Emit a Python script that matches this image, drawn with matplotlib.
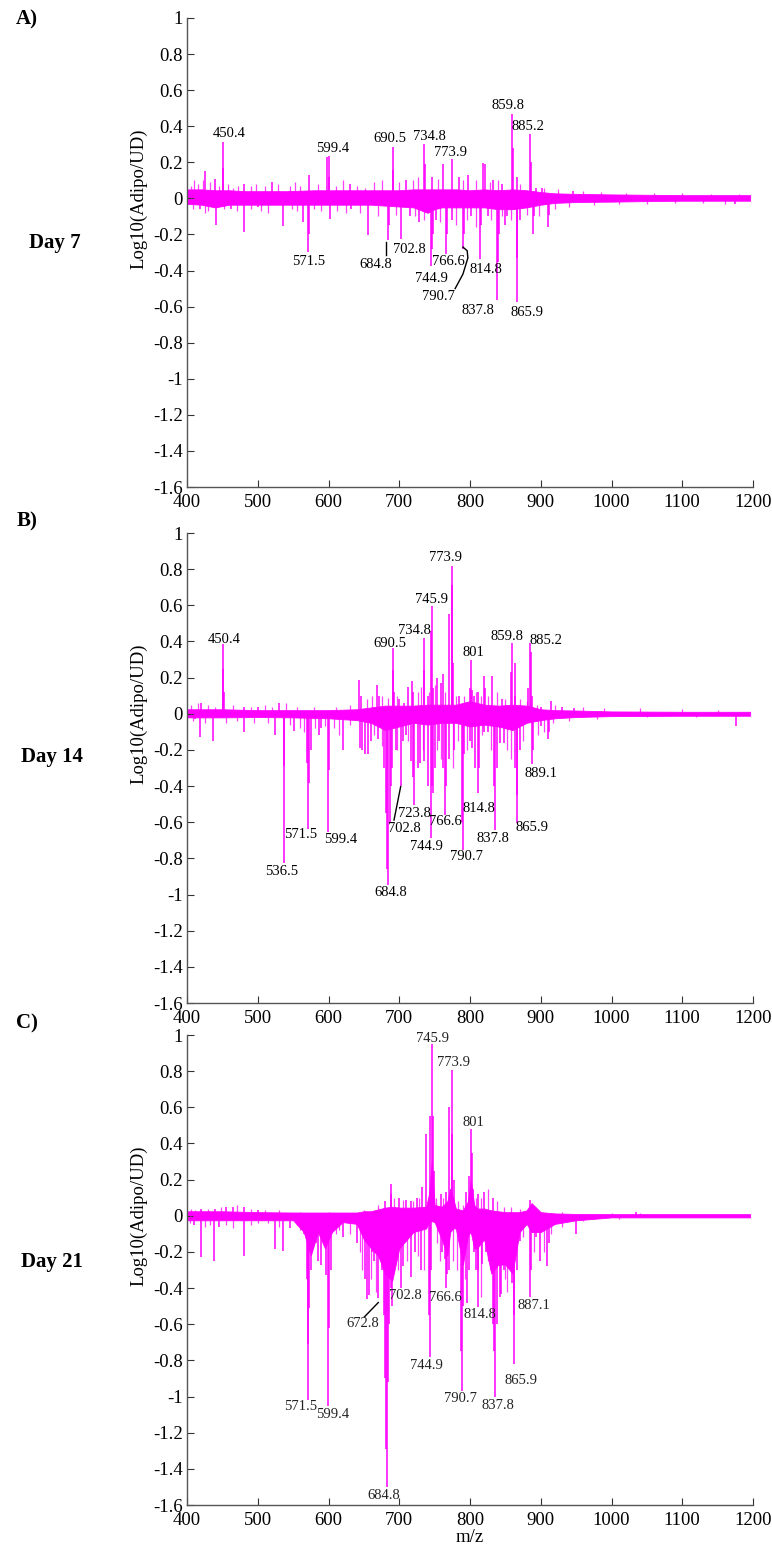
import matplotlib
matplotlib.use("Agg")
import matplotlib.pyplot as plt
from matplotlib.ticker import FuncFormatter

plt.rcParams['font.family'] = ['Liberation Serif', 'DejaVu Serif']
plt.rcParams['axes.unicode_minus'] = False

MAG = '#ff00ff'

# ---------------- data (m/z, log10 ratio) ----------------
# Day 7
a_band_mz = [400, 420, 440, 460, 480, 500, 540, 580, 620, 660, 700, 720, 740, 750, 760, 780, 800, 820, 840, 860, 880, 900, 920, 950, 1000, 1050, 1100, 1150, 1196]
a_band_hi = [0.05, 0.05, 0.045, 0.045, 0.04, 0.04, 0.04, 0.045, 0.045, 0.045, 0.045, 0.05, 0.05, 0.05, 0.05, 0.05, 0.045, 0.05, 0.045, 0.05, 0.045, 0.035, 0.028, 0.025, 0.022, 0.02, 0.018, 0.018, 0.018]
a_band_lo = [-0.03, -0.035, -0.05, -0.035, -0.035, -0.035, -0.035, -0.035, -0.035, -0.035, -0.045, -0.05, -0.08, -0.06, -0.05, -0.05, -0.05, -0.05, -0.06, -0.06, -0.05, -0.035, -0.025, -0.02, -0.018, -0.015, -0.013, -0.013, -0.013]
a_peak_mz = [426, 440, 450.4, 451.5, 480, 520, 572, 598.5, 600.2, 601, 630, 690.5, 691.5, 710, 734.8, 736, 746, 762.5, 773.9, 784, 797, 819, 820.5, 833, 845, 859.8, 860.5, 866, 885.2, 886, 893, 902, 945,
             418, 440.5, 462, 480.5, 500, 536, 564, 571.5, 572.5, 601.5, 632, 656.5, 684.8, 686, 702.8, 715, 728, 744.9, 746, 748, 752, 766.6, 768, 775, 790.7, 792, 802, 814.8, 816, 826, 837.8, 839, 841, 849, 852, 865.9, 867, 871, 889, 891, 910, 912, 1175]
a_peak_val = [0.15, 0.11, 0.31, 0.17, 0.08, 0.09, 0.13, 0.23, 0.235, 0.12, 0.08, 0.285, 0.16, 0.1, 0.30, 0.19, 0.12, 0.19, 0.22, 0.12, 0.13, 0.195, 0.19, 0.1, 0.08, 0.47, 0.28, 0.12, 0.355, 0.2, 0.06, 0.06, 0.04,
              -0.06, -0.15, -0.06, -0.185, -0.05, -0.153, -0.13, -0.30, -0.2, -0.117, -0.06, -0.205, -0.232, -0.15, -0.227, -0.1, -0.13, -0.376, -0.28, -0.2, -0.12, -0.31, -0.2, -0.12, -0.28, -0.2, -0.1, -0.334, -0.15, -0.1, -0.564, -0.35, -0.2, -0.145, -0.1, -0.577, -0.33, -0.12, -0.199, -0.1, -0.158, -0.09, -0.03]
a_small_mz = [405, 410, 415, 422, 432, 445, 458, 465, 472, 490, 498, 510, 528, 545, 552, 560, 585, 610, 620, 640, 652, 665, 675, 700, 720, 726, 755, 790, 808, 828, 840, 870, 905, 925, 960, 985, 1020, 1060, 1100, 1140, 1180,
              408, 425, 430, 452, 470, 490.5, 505, 515, 548, 556, 580, 590, 612, 625, 645, 670, 695, 722, 735, 758, 780, 796, 808.5, 830, 845, 858, 880, 898, 920, 940, 975, 1010, 1050, 1090, 1130, 1160]
a_small_val = [0.07, 0.1, 0.08, 0.1, 0.09, 0.07, 0.08, 0.06, 0.07, 0.07, 0.08, 0.07, 0.08, 0.07, 0.09, 0.07, 0.08, 0.07, 0.1, 0.07, 0.06, 0.09, 0.1, 0.09, 0.1, 0.12, 0.11, 0.1, 0.1, 0.09, 0.1, 0.08, 0.06, 0.05, 0.04, 0.035, 0.03, 0.03, 0.028, 0.025, 0.025,
               -0.06, -0.08, -0.07, -0.06, -0.07, -0.06, -0.07, -0.08, -0.06, -0.07, -0.06, -0.07, -0.07, -0.08, -0.08, -0.1, -0.09, -0.1, -0.12, -0.13, -0.15, -0.12, -0.16, -0.12, -0.1, -0.12, -0.09, -0.1, -0.06, -0.05, -0.035, -0.03, -0.03, -0.028, -0.025, -0.03]
a_lab_txt = ["450.4", "599.4", "690.5", "734.8", "773.9", "859.8", "885.2", "571.5", "684.8", "702.8", "744.9", "766.6", "790.7", "814.8", "837.8", "865.9"]
a_lab_mz = [459.4, 605.4, 687, 742, 773, 853.3, 882.4, 571.5, 666.7, 714.3, 744.9, 769.4, 755.3, 822.6, 811, 881]
a_lab_val = [0.358, 0.275, 0.33, 0.343, 0.256, 0.514, 0.40, -0.352, -0.367, -0.284, -0.444, -0.352, -0.546, -0.393, -0.62, -0.632]
a_lead = [([681.7, 681.7], [-0.242, -0.315]),
          ([779, 790, 797, 796, 790], [-0.5, -0.42, -0.33, -0.29, -0.27])]

# Day 14
b_band_mz = [400, 450, 500, 550, 600, 640, 660, 680, 700, 720, 740, 760, 780, 800, 820, 840, 860, 880, 900, 920, 950, 1000, 1100, 1196]
b_band_hi = [0.025, 0.025, 0.02, 0.02, 0.02, 0.025, 0.035, 0.045, 0.045, 0.045, 0.05, 0.05, 0.05, 0.07, 0.05, 0.045, 0.05, 0.045, 0.025, 0.02, 0.018, 0.013, 0.011, 0.011]
b_band_lo = [-0.02, -0.02, -0.018, -0.02, -0.025, -0.035, -0.05, -0.09, -0.07, -0.05, -0.06, -0.05, -0.05, -0.07, -0.06, -0.07, -0.09, -0.05, -0.035, -0.025, -0.018, -0.013, -0.011, -0.011]
b_peak_mz = [420, 450.4, 451.2, 452, 480, 500, 530, 643, 646, 669, 671, 690.5, 691.3, 693, 700, 707, 712, 718.5, 720, 734.8, 735.5, 740, 745.2, 745.9, 747, 753, 759, 762, 770.5, 773.9, 774.7, 776, 785, 799.5, 801, 803, 806, 812, 819.5, 821, 831.5, 845, 857.5, 859.8, 863.6, 864, 882, 885.2, 886, 888, 900, 914.5, 930, 947,
             412, 419, 437, 480, 524, 536.5, 537.5, 551, 570, 571.5, 573, 575, 587, 590, 599.4, 600.5, 620, 645, 648, 652, 656, 660, 670, 678, 681, 683, 684.8, 686.5, 688, 690, 695, 702.8, 705, 710, 716, 719, 721, 726, 730, 735, 740, 744.9, 746, 748, 750, 756, 762, 764, 766, 770, 778, 788, 790, 792, 800, 803, 807, 811, 813, 820, 826, 834, 835.5, 838, 843, 848, 864, 865.9, 867, 870, 887.5, 889, 900, 910, 912, 1176]
b_peak_val = [0.06, 0.384, 0.245, 0.12, 0.04, 0.04, 0.06, 0.185, 0.1, 0.157, 0.1, 0.366, 0.24, 0.12, 0.08, 0.06, 0.15, 0.18, 0.12, 0.418, 0.24, 0.1, 0.46, 0.597, 0.14, 0.2, 0.17, 0.22, 0.55, 0.82, 0.71, 0.28, 0.1, 0.14, 0.295, 0.13, 0.1, 0.12, 0.21, 0.14, 0.21, 0.08, 0.23, 0.39, 0.28, 0.1, 0.14, 0.39, 0.34, 0.1, 0.04, 0.07, 0.04, 0.03,
              -0.03, -0.13, -0.15, -0.1, -0.12, -0.823, -0.29, -0.095, -0.27, -0.638, -0.385, -0.2, -0.115, -0.08, -0.653, -0.31, -0.2, -0.19, -0.2, -0.22, -0.22, -0.15, -0.14, -0.3, -0.55, -0.86, -0.949, -0.6, -0.4, -0.3, -0.2, -0.4, -0.15, -0.12, -0.26, -0.35, -0.505, -0.3, -0.27, -0.26, -0.4, -0.686, -0.4, -0.44, -0.3, -0.15, -0.3, -0.56, -0.4, -0.25, -0.2, -0.6, -0.755, -0.22, -0.15, -0.19, -0.3, -0.44, -0.3, -0.1, -0.1, -0.4, -0.643, -0.3, -0.16, -0.16, -0.3, -0.607, -0.45, -0.2, -0.277, -0.2, -0.07, -0.14, -0.1, -0.07]
b_small_mz = [405, 415, 430, 440, 465, 490, 510, 520, 540, 555, 580, 610, 630, 655, 662, 676, 684, 697, 727, 731, 742, 750, 765, 780, 792, 808, 815, 825, 838, 850, 870, 880, 895, 920, 960, 990, 1040, 1100, 1150,
              408, 425, 455, 470, 495, 515, 545, 560, 565, 580.5, 595, 608, 615, 630.5, 665, 675, 697.5, 713, 733, 753.5, 759.5, 775.5, 783, 796, 817, 829, 852, 858, 875, 895.5, 905, 918, 940, 980, 1050, 1120]
b_small_val = [0.05, 0.06, 0.05, 0.04, 0.05, 0.04, 0.05, 0.04, 0.06, 0.04, 0.04, 0.04, 0.05, 0.08, 0.1, 0.1, 0.09, 0.1, 0.12, 0.15, 0.12, 0.16, 0.12, 0.1, 0.1, 0.12, 0.1, 0.1, 0.12, 0.08, 0.08, 0.07, 0.05, 0.05, 0.04, 0.03, 0.03, 0.025, 0.02,
               -0.04, -0.05, -0.05, -0.04, -0.05, -0.05, -0.06, -0.08, -0.1, -0.08, -0.07, -0.08, -0.12, -0.06, -0.12, -0.18, -0.2, -0.15, -0.2, -0.2, -0.25, -0.3, -0.15, -0.2, -0.12, -0.2, -0.2, -0.25, -0.15, -0.12, -0.1, -0.05, -0.04, -0.03, -0.02, -0.02]
b_lab_txt = ["450.4", "690.5", "734.8", "745.9", "773.9", "801", "859.8", "885.2", "536.5", "571.5", "599.4", "684.8", "723.8", "702.8", "766.6", "744.9", "790.7", "814.8", "837.8", "865.9", "889.1"]
b_lab_mz = [452.8, 687, 721.3, 745.8, 764.7, 804.8, 851.9, 907, 533.8, 561, 617.2, 688.3, 721.3, 707.2, 764.7, 738.8, 795.6, 813, 833, 887.2, 900]
b_lab_val = [0.412, 0.388, 0.458, 0.634, 0.862, 0.338, 0.425, 0.407, -0.871, -0.668, -0.693, -0.986, -0.551, -0.634, -0.597, -0.736, -0.792, -0.523, -0.69, -0.629, -0.332]
b_lead = [([692.6, 702], [-0.588, -0.403])]

# Day 21
c_band_mz = [400, 450, 500, 550, 565, 575, 585, 595, 605, 620, 640, 650, 660, 670, 680, 690, 700, 720, 738, 742, 746, 750, 760, 768, 772, 776, 780, 790, 797, 801, 806, 810, 820, 830, 840, 850, 860, 870, 880, 887, 900, 920, 950, 1000, 1100, 1196]
c_band_hi = [0.025, 0.025, 0.02, 0.018, 0.018, 0.018, 0.018, 0.018, 0.018, 0.018, 0.018, 0.025, 0.025, 0.035, 0.045, 0.05, 0.045, 0.045, 0.05, 0.12, 0.3, 0.06, 0.05, 0.08, 0.15, 0.1, 0.04, 0.03, 0.08, 0.2, 0.06, 0.04, 0.04, 0.03, 0.025, 0.02, 0.02, 0.02, 0.03, 0.07, 0.02, 0.013, 0.01, 0.009, 0.009, 0.009]
c_band_lo = [-0.025, -0.025, -0.025, -0.025, -0.09, -0.22, -0.09, -0.18, -0.09, -0.035, -0.045, -0.13, -0.18, -0.22, -0.32, -0.36, -0.18, -0.09, -0.07, -0.035, -0.03, -0.035, -0.13, -0.22, -0.09, -0.07, -0.07, -0.27, -0.11, -0.09, -0.18, -0.18, -0.13, -0.32, -0.27, -0.27, -0.32, -0.09, -0.045, -0.09, -0.09, -0.045, -0.025, -0.009, -0.009, -0.009]
c_peak_mz = [420, 440, 455, 465, 480, 500, 680, 687.7, 689, 700, 710, 716, 725, 732, 738, 743, 745.9, 747, 749, 758.9, 766, 770.5, 773.9, 775, 777, 795, 799, 801, 802.5, 804, 812, 820, 832, 885, 887, 1035,
             410, 419.8, 437.7, 445, 480, 523.8, 536, 545, 565, 569, 570.5, 571.5, 572.5, 575, 582, 585, 589, 596, 599.4, 600.5, 603, 620, 640, 652, 655, 657, 662, 665, 669.5, 675, 678, 680, 681.5, 682.7, 684, 686, 688, 690, 695, 702.8, 706, 716.5, 722, 730.6, 742, 743, 745, 760, 764, 766.6, 768, 771, 787, 788, 790, 796, 798, 805, 808, 810.9, 812, 817, 822, 830, 833, 834.5, 835.5, 838, 842, 844, 848, 855, 860, 862, 862.7, 866, 870, 880, 884.8, 886, 893, 899, 909.3, 911, 950]
c_peak_val = [0.04, 0.04, 0.05, 0.05, 0.05, 0.03, 0.08, 0.174, 0.12, 0.1, 0.09, 0.08, 0.1, 0.16, 0.45, 0.55, 0.95, 0.55, 0.25, 0.12, 0.13, 0.6, 0.805, 0.45, 0.2, 0.13, 0.22, 0.48, 0.35, 0.15, 0.12, 0.13, 0.1, 0.09, 0.06, 0.02,
              -0.05, -0.23, -0.25, -0.06, -0.22, -0.185, -0.195, -0.07, -0.1, -0.35, -0.71, -1.02, -0.51, -0.3, -0.15, -0.25, -0.275, -0.33, -1.054, -0.62, -0.3, -0.12, -0.15, -0.35, -0.458, -0.44, -0.2, -0.25, -0.457, -0.3, -0.55, -0.9, -1.29, -1.5, -0.92, -0.6, -0.4, -0.5, -0.25, -0.4, -0.28, -0.34, -0.2, -0.3, -0.55, -0.78, -0.3, -0.2, -0.24, -0.397, -0.32, -0.3, -0.75, -0.97, -0.5, -0.485, -0.3, -0.2, -0.3, -0.504, -0.3, -0.265, -0.2, -0.3, -0.6, -0.75, -1.0, -0.6, -0.45, -0.43, -0.3, -0.2, -0.37, -0.55, -0.82, -0.3, -0.14, -0.05, -0.45, -0.3, -0.12, -0.25, -0.28, -0.15, -0.1]
c_small_mz = [405, 412, 430, 448, 470, 490, 510, 530, 560, 600, 650, 670, 693, 705, 719, 728, 752, 762, 783, 790, 808, 815, 826, 838, 848, 858, 870, 892, 930, 1000, 1040, 1100, 1180,
              404, 425, 432, 455, 465, 490.5, 500.5, 515, 530.5, 555, 560, 610, 615, 630, 645, 648, 660, 667, 698, 711, 726, 735, 753, 757, 775.5, 781, 793, 815, 826, 850, 852, 857, 875, 890, 905, 915, 930, 960, 1010]
c_small_val = [0.04, 0.03, 0.04, 0.05, 0.06, 0.04, 0.03, 0.03, 0.02, 0.02, 0.03, 0.06, 0.1, 0.09, 0.08, 0.1, 0.1, 0.1, 0.08, 0.06, 0.1, 0.1, 0.15, 0.08, 0.05, 0.05, 0.04, 0.03, 0.02, 0.015, 0.015, 0.012, 0.012,
               -0.04, -0.06, -0.05, -0.05, -0.07, -0.05, -0.04, -0.04, -0.06, -0.05, -0.08, -0.1, -0.08, -0.1, -0.2, -0.3, -0.35, -0.42, -0.3, -0.25, -0.22, -0.3, -0.15, -0.25, -0.25, -0.3, -0.35, -0.45, -0.25, -0.35, -0.42, -0.25, -0.12, -0.2, -0.2, -0.1, -0.06, -0.03, -0.02]
c_lab_txt = ["745.9", "773.9", "801", "571.5", "599.4", "672.8", "702.8", "766.6", "744.9", "790.7", "684.8", "814.8", "837.8", "865.9", "887.1"]
c_lab_mz = [747, 777, 804.8, 561.1, 605.4, 647.8, 709.1, 764.7, 738.8, 785.9, 678.4, 814.7, 839.1, 871.6, 890.5]
c_lab_val = [0.978, 0.847, 0.515, -1.056, -1.102, -0.595, -0.442, -0.451, -0.831, -1.01, -1.55, -0.545, -1.047, -0.912, -0.497]
c_lead = [([650.6, 670.4], [-0.56, -0.48])]

x_ticks = [400, 500, 600, 700, 800, 900, 1000, 1100, 1200]
y_ticks = [1, 0.8, 0.6, 0.4, 0.2, 0, -0.2, -0.4, -0.6, -0.8, -1, -1.2, -1.4, -1.6]
panel_letters = ["A)", "B)", "C)"]
panel_days = ["Day 7", "Day 14", "Day 21"]

# ---------------- figure ----------------
W, H = 772, 1551
fig = plt.figure(figsize=(W / 100, H / 100), dpi=100)

ax_left, ax_right = 187, 753
panel_px = [(18, 487), (533, 1003), (1035, 1505)]
letter_px = [(27, 19), (27, 521), (27, 1023)]
day_px = [(55, 243), (52, 757), (52, 1262)]

panels = [
    (a_band_mz, a_band_hi, a_band_lo, a_peak_mz, a_peak_val, a_small_mz, a_small_val, a_lab_txt, a_lab_mz, a_lab_val, a_lead),
    (b_band_mz, b_band_hi, b_band_lo, b_peak_mz, b_peak_val, b_small_mz, b_small_val, b_lab_txt, b_lab_mz, b_lab_val, b_lead),
    (c_band_mz, c_band_hi, c_band_lo, c_peak_mz, c_peak_val, c_small_mz, c_small_val, c_lab_txt, c_lab_mz, c_lab_val, c_lead),
]

fmt = FuncFormatter(lambda v, p: ('%g' % round(v, 2)))

for i, (bmz, bhi, blo, pmz, pval, smz, sval, ltxt, lmz, lval, leads) in enumerate(panels):
    top, bot = panel_px[i]
    ax = fig.add_axes([ax_left / W, 1 - bot / H, (ax_right - ax_left) / W, (bot - top) / H])
    ax.fill_between(bmz, blo, bhi, color=MAG, lw=0.6, edgecolor=MAG)
    ax.vlines(smz, 0, sval, color=MAG, lw=0.9, alpha=0.75)
    ax.vlines(pmz, 0, pval, color=MAG, lw=1.1)
    txtcol = 'black' if i < 2 else '#222222'
    for t, mx, vy in zip(ltxt, lmz, lval):
        ax.text(mx, vy, t, ha='center', va='center', fontsize=10.5, color=txtcol)
    for lx, ly in leads:
        ax.plot(lx, ly, color='black', lw=1.0)
    ax.set_xlim(400, 1200)
    ax.set_ylim(-1.6, 1)
    ax.set_xticks(x_ticks)
    ax.set_yticks(y_ticks)
    ax.yaxis.set_major_formatter(fmt)
    ax.tick_params(direction='in', length=5, width=0.8, labelsize=13.5, colors='#333333',
                   labelcolor='black', pad=3)
    ax.tick_params(axis='x', pad=5)
    for s in ['top', 'right']:
        ax.spines[s].set_visible(False)
    for s in ['left', 'bottom']:
        ax.spines[s].set_color('#555555')
        ax.spines[s].set_linewidth(1.0)
    ax.set_ylabel('Log10(Adipo/UD)', fontsize=13.5)
    ax.yaxis.set_label_coords(-0.069, 0.615)
    if i == 2:
        ax.set_xlabel('m/z', fontsize=13.5, labelpad=0)
    lx, ly = letter_px[i]
    fig.text(lx / W, 1 - ly / H, panel_letters[i], fontsize=15, fontweight='bold', ha='center', va='center')
    dx, dy = day_px[i]
    fig.text(dx / W, 1 - dy / H, panel_days[i], fontsize=15, fontweight='bold', ha='center', va='center')

fig.savefig('out.png', dpi=100)
